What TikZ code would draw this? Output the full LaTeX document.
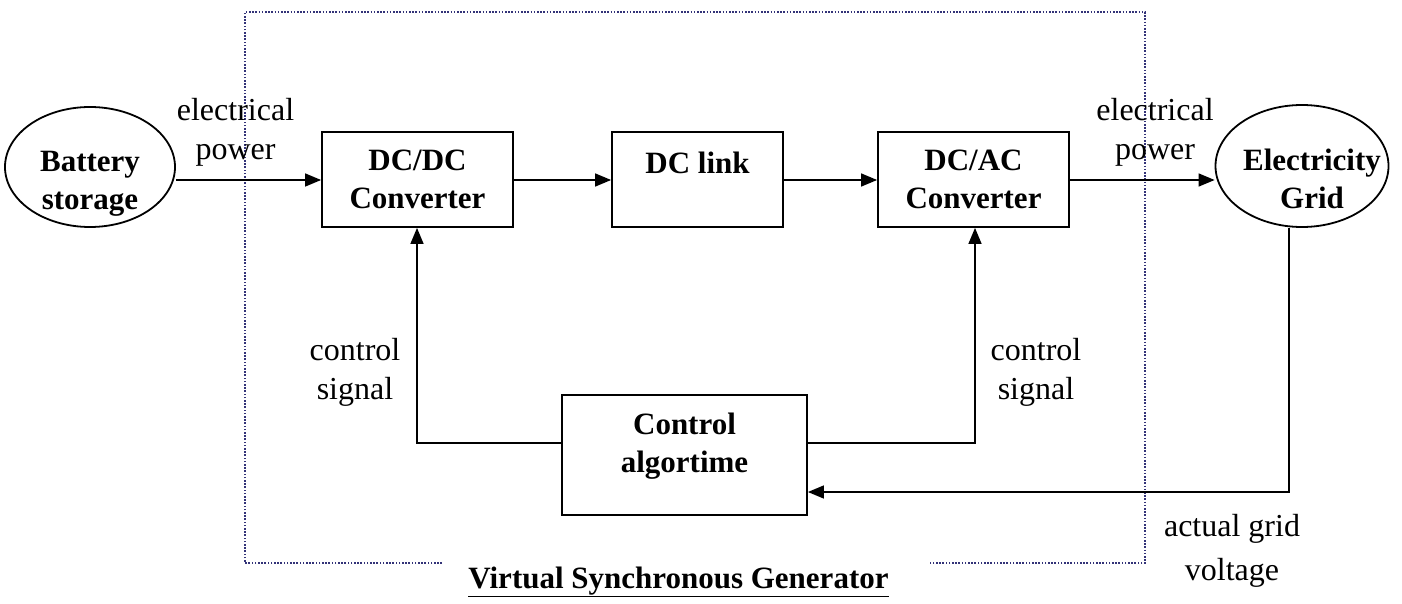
\documentclass[tikz,border=0pt]{standalone}
\usepackage{fontspec}
\setmainfont{Liberation Serif}
\usetikzlibrary{arrows.meta,shapes.geometric}
\begin{document}
\begin{tikzpicture}[x=1pt,y=-1pt,
  blk/.style={draw,line width=1.8pt,inner sep=0pt,align=center,font=\fontsize{31}{38}\selectfont\bfseries},
  ell/.style={draw,ellipse,line width=1.8pt,inner sep=0pt},
  txt/.style={inner sep=0pt,align=center,font=\fontsize{31}{38}\selectfont\bfseries},
  lbl/.style={align=center,font=\fontsize{32}{39}\selectfont,inner sep=0pt},
  conn/.style={line width=1.4pt,-{Triangle[length=16pt,width=13pt]}},
  frame/.style={line width=2.4pt,color=black!55!blue!60!gray,dash pattern=on 1.6pt off 1.6pt}
]
\useasboundingbox (0,0) rectangle (1402,604);
% frame
\draw[frame] (442,563) -- (245,563) -- (245,12) -- (1145,12) -- (1145,563) -- (930,563);
% nodes
\node[ell,minimum width=170pt,minimum height=120pt] (bat) at (90,167) {};
\node[txt] (battxt) at (90,184) {Battery\\storage};
\node[ell,minimum width=173pt,minimum height=122pt] (grid) at (1302,166) {};
\node[txt] (gridtxt) at (1312,179) {Electricity\\Grid};
\node[blk,minimum width=191pt,minimum height=95pt] (dcdc) at (417.5,179.5) {DC/DC\\Converter};
\node[blk,minimum width=171pt,minimum height=95pt] (link) at (697.5,179.5) {};
\node[txt] (linktxt) at (697.5,163) {DC link};
\node[blk,minimum width=191pt,minimum height=95pt] (dcac) at (973.5,179.5) {DC/AC\\Converter};
\node[blk,minimum width=245pt,minimum height=120pt] (ctrl) at (684.5,455) {};
\node[txt] (ctrltxt) at (684.5,446) {Control\\algortime};
% coordinates
\coordinate (cl) at (417,443);
\coordinate (cr) at (975,443);
\coordinate (gb) at (1289,492);
% connectors
\draw[conn] (bat.east |- 0,180) -- (dcdc.west |- 0,180);
\draw[conn] (dcdc.east |- 0,180) -- (link.west |- 0,180);
\draw[conn] (link.east |- 0,180) -- (dcac.west |- 0,180);
\draw[conn] (dcac.east |- 0,180) -- (grid.west |- 0,180);
\draw[conn] (ctrl.west |- cl) -- (cl) -- (cl |- dcdc.south);
\draw[conn] (ctrl.east |- cr) -- (cr) -- (cr |- dcac.south);
\draw[conn] (gb |- grid.south) -- (gb) -- (ctrl.east |- gb);
% labels
\node[lbl] (l1) at (235.5,132.5) {electrical\\power};
\node[lbl] (l2) at (1155,132.5) {electrical\\power};
\node[lbl] (l3) at (355,372) {control\\signal};
\node[lbl] (l4) at (1036,372) {control\\signal};
\node[lbl,font=\fontsize{32}{44}\selectfont] (l5) at (1232,551) {actual grid\\voltage};
\node[font=\fontsize{31}{37}\selectfont\bfseries,inner sep=0pt] (title) at (678.5,582) {\underline{Virtual Synchronous Generator}};
\end{tikzpicture}
\end{document}
